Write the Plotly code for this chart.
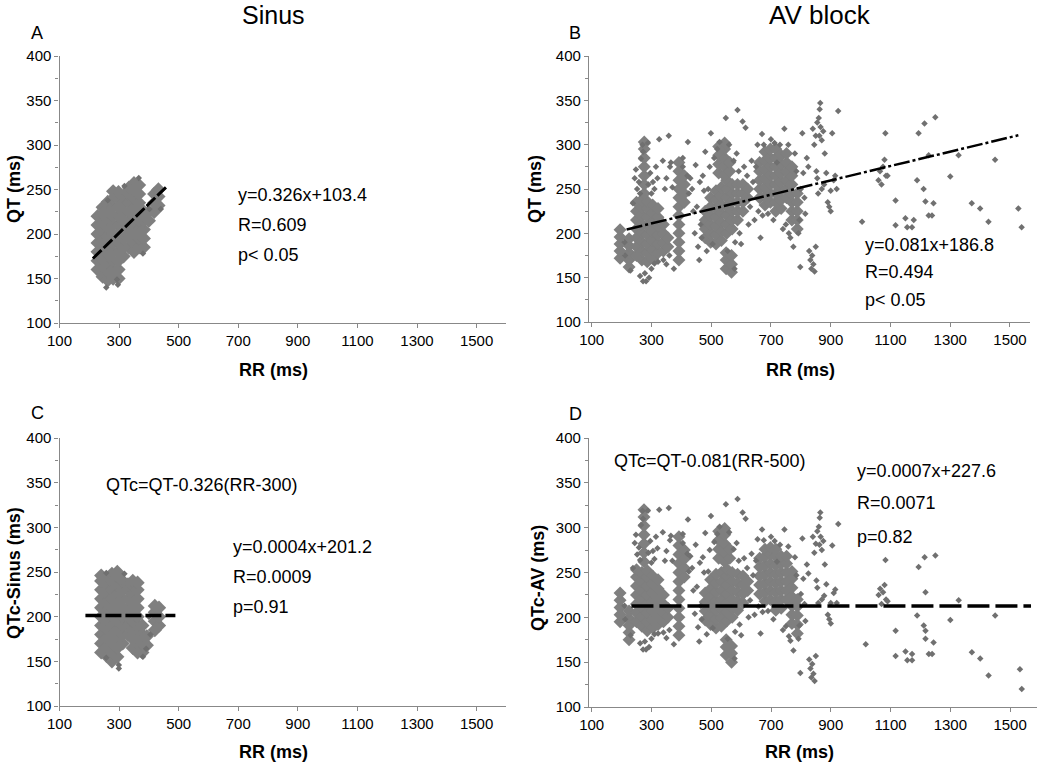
import plotly.graph_objects as go

# ---------------- DATA ----------------
# Panel A: Sinus, QT vs RR  (dense cloud + isolated points)
A_CORE = [
    (228,160),(228,170),(228,180),(228,190),(228,200),(228,210),(228,220),
    (245,152),(245,162),(245,172),(245,182),(245,192),(245,202),(245,212),(245,222),(245,230),
    (262,148),(262,158),(262,168),(262,178),(262,188),(262,198),(262,208),(262,218),(262,228),(262,236),
    (280,150),(280,160),(280,170),(280,180),(280,190),(280,200),(280,210),(280,220),(280,230),(280,240),(280,248),
    (298,150),(298,160),(298,170),(298,180),(298,190),(298,200),(298,210),(298,220),(298,230),(298,240),(298,247),
    (315,175),(315,185),(315,195),(315,205),(315,215),(315,225),(315,235),(315,243),
    (333,185),(333,195),(333,205),(333,215),(333,225),(333,235),(333,245),(333,252),
    (350,180),(350,190),(350,200),(350,210),(350,220),(350,230),(350,240),(350,250),(350,257),
    (367,185),(367,195),(367,205),(367,215),(367,225),(367,235),(367,245),(367,255),
    (383,185),(383,195),(383,205),(383,215),(383,225),
    (400,215),(400,225),
    (418,225),(418,235),(418,245),
    (432,232),(432,242),(432,250),
]
A_PTS = [(257,140),(296,143),(293,149),(318,254),(366,263),(262,238),(402,228),(380,178),(440,228)]
A_FIT_RR = [212, 463]
A_FIT_QT = [172.5, 254.3]

# Panel B: AV block, QT vs RR
B_CORE = [
    (195,172),(195,180),(195,188),(195,196),(195,204),
    (225,162),(225,170),(225,178),(225,186),(225,194),
    (250,175),(250,185),(250,195),(250,205),(250,215),(250,225),(250,235),
    (268,170),(268,180),(268,190),(268,200),(268,210),(268,220),(268,230),(268,238),
    (286,168),(286,178),(286,188),(286,198),(286,208),(286,218),(286,228),(286,236),
    (304,172),(304,182),(304,192),(304,202),(304,212),(304,222),(304,232),
    (322,178),(322,188),(322,198),(322,208),(322,218),(322,228),
    (340,180),(340,190),(340,200),(340,210),
    (355,185),(355,195),
    (276,245),(276,255),(276,265),(276,275),(276,285),(276,295),(276,303),
    (392,170),(392,180),(392,190),(392,200),(392,210),(392,220),(392,230),(392,240),(392,250),(392,260),(392,270),(392,280),
    (410,235),(410,245),(410,255),(410,265),
    (480,195),(480,205),(480,215),(480,225),
    (498,190),(498,200),(498,210),(498,220),(498,230),(498,240),
    (516,188),(516,198),(516,208),(516,218),(516,228),(516,238),(516,248),
    (534,192),(534,202),(534,212),(534,222),(534,232),(534,242),(534,252),
    (552,200),(552,210),(552,220),(552,230),(552,240),(552,250),(552,260),
    (570,205),(570,215),(570,225),(570,235),(570,245),(570,255),
    (588,215),(588,225),(588,235),(588,245),(588,255),
    (606,225),(606,235),(606,245),(606,255),
    (622,240),(622,250),
    (525,268),(525,278),(525,288),(525,298),
    (545,265),(545,275),(545,285),(545,295),(545,302),
    (562,270),(562,280),
    (550,160),(550,170),(550,178),
    (568,156),(568,165),(568,175),
    (662,240),(662,250),(662,260),(662,270),(662,280),
    (680,232),(680,242),(680,252),(680,262),(680,272),(680,282),(680,292),
    (698,235),(698,245),(698,255),(698,265),(698,275),(698,285),(698,295),
    (716,225),(716,235),(716,245),(716,255),(716,265),(716,275),(716,285),(716,295),
    (734,228),(734,238),(734,248),(734,258),(734,268),(734,278),(734,288),
    (752,240),(752,250),(752,260),(752,270),(752,280),(752,290),
    (770,215),(770,225),(770,235),(770,245),(770,255),(770,265),(770,275),
    (788,205),(788,215),(788,225),(788,235),(788,245),
]
B_PTS = [
    (210,190),(212,175),(230,158),(238,234),(244,262),(248,272),(252,250),(258,258),(262,245),(265,284),
    (270,300),(272,292),(288,302),(290,255),(296,268),(300,245),(305,258),(310,250),(315,275),(320,262),
    (326,306),(338,282),(345,250),(350,262),(358,310),(362,275),(365,280),(370,252),(340,170),(350,165),
    (300,160),(292,150),(282,146),(272,146),(278,155),(262,152),(310,166),(322,168),(360,175),(375,160),
    (405,285),(405,275),(420,265),(422,303),(425,245),(430,262),(436,250),(440,225),(445,200),(448,277),
    (452,230),(456,185),(460,170),(462,258),(465,210),(468,195),(472,265),(476,248),(480,292),(485,180),
    (490,250),(495,275),(499,313),(505,188),(510,285),
    (520,295),(528,303),(549,330),(555,180),(560,300),(575,282),(578,160),(580,190),(585,290),(588,339),
    (592,270),(595,200),(600,188),(605,326),(610,275),(615,319),(620,265),(625,210),(630,230),(635,282),
    (640,258),(645,215),(650,275),(655,300),(658,225),(665,195),(670,312),(672,220),(676,300),(690,222),
    (700,306),(708,215),(712,302),(720,280),(730,300),(740,205),(745,318),(750,210),(758,300),(760,200),
    (765,195),(775,185),(780,290),(785,270),(792,200),(795,215),(798,162),(800,250),(805,313),(808,268),
    (812,240),(815,222),(820,285),(825,275),(828,180),(832,170),(835,160),(838,175),(842,165),(846,157),
    (850,185),(852,270),(855,262),(858,245),(840,318),(845,300),(850,310),(855,325),(860,330),(862,310),
    (866,320),(870,305),(865,347),(863,340),(875,315),(880,290),(885,268),(890,235),(895,230),(900,248),
    (905,313),(910,260),(915,265),(920,250),(925,338),(900,225),(878,255),(870,250),
    (1005,213),(1060,260),(1065,270),(1070,255),(1075,275),(1080,283),(1085,265),(1090,265),(1083,313),
    (1117,237),(1117,209),(1150,217),(1156,207),(1172,207),(1178,215),(1189,260),(1194,313),(1211,250),
    (1214,324),(1217,236),(1228,220),(1239,220),(1244,234),(1250,331),(1228,288),(1300,264),(1328,288),
    (1372,234),(1400,228),(1428,213),(1450,283),(1528,228),(1539,207),
]
B_FIT_RR = [217, 1528]
B_FIT_QT = [204.4, 310.6]

# Panel C: Sinus, corrected QTc vs RR
C_CORE = [
    (240,160),(240,170),(240,180),(240,190),(240,200),(240,210),(240,220),(240,230),(240,240),(240,246),
    (258,156),(258,166),(258,176),(258,186),(258,196),(258,206),(258,216),(258,226),(258,236),(258,244),
    (276,150),(276,160),(276,170),(276,180),(276,190),(276,200),(276,210),(276,220),(276,230),(276,240),(276,248),
    (294,155),(294,165),(294,175),(294,185),(294,195),(294,205),(294,215),(294,225),(294,235),(294,245),(294,250),
    (312,170),(312,180),(312,190),(312,200),(312,210),(312,220),(312,230),(312,240),
    (330,180),(330,190),(330,200),(330,210),(330,220),(330,230),(330,236),
    (346,165),(346,175),(346,185),(346,195),(346,205),(346,215),(346,225),(346,235),(346,240),
    (362,160),(362,170),(362,180),(362,190),(362,200),(362,210),(362,220),(362,230),(362,238),
    (378,160),(378,170),(378,180),(378,190),
    (393,168),(393,178),
    (420,185),(420,195),(420,205),(420,212),
    (434,190),(434,200),(434,210),
]
C_PTS = [(257,154),(299,146),(299,142),(257,249),(318,248),(380,155),(391,164),(405,180),(400,200)]
C_FIT_RR = [187, 489]
C_FIT_QT = [201.3, 201.4]

# Panel D: AV block, corrected QTc vs RR
D_CORE = [
    (195,195),(195,203),(195,211),(195,219),(195,227),
    (225,175),(225,183),(225,191),(225,199),(225,207),
    (250,195),(250,205),(250,215),(250,225),(250,235),(250,245),(250,253),
    (268,190),(268,200),(268,210),(268,220),(268,230),(268,240),(268,250),
    (286,185),(286,195),(286,205),(286,215),(286,225),(286,235),(286,245),(286,252),
    (304,188),(304,198),(304,208),(304,218),(304,228),(304,238),(304,246),
    (322,192),(322,202),(322,212),(322,222),(322,232),(322,242),
    (340,195),(340,205),(340,215),(340,225),
    (355,200),(355,210),
    (275,262),(275,272),(275,282),(275,292),(275,302),(275,312),(275,320),
    (392,180),(392,190),(392,200),(392,210),(392,220),(392,230),(392,240),(392,250),(392,260),(392,270),(392,280),(392,290),
    (410,245),(410,255),(410,265),(410,275),
    (480,197),(480,207),(480,217),(480,227),
    (498,192),(498,202),(498,212),(498,222),(498,232),(498,242),
    (516,188),(516,198),(516,208),(516,218),(516,228),(516,238),(516,248),
    (534,190),(534,200),(534,210),(534,220),(534,230),(534,240),(534,250),
    (552,196),(552,206),(552,216),(552,226),(552,236),(552,246),(552,254),
    (570,200),(570,210),(570,220),(570,230),(570,240),(570,250),
    (588,208),(588,218),(588,228),(588,238),(588,248),
    (606,216),(606,226),(606,236),(606,246),
    (622,230),(622,240),
    (525,266),(525,276),(525,286),(525,296),
    (545,262),(545,272),(545,282),(545,292),(545,299),
    (562,266),(562,276),
    (550,158),(550,167),(550,175),
    (568,150),(568,160),(568,168),
    (662,226),(662,236),(662,246),(662,256),(662,266),
    (680,218),(680,228),(680,238),(680,248),(680,258),(680,268),(680,276),
    (698,220),(698,230),(698,240),(698,250),(698,260),(698,270),(698,278),
    (716,208),(716,218),(716,228),(716,238),(716,248),(716,258),(716,268),(716,276),
    (734,210),(734,220),(734,230),(734,240),(734,250),(734,260),(734,268),
    (752,220),(752,230),(752,240),(752,250),(752,260),(752,268),
    (770,193),(770,203),(770,213),(770,223),(770,233),(770,243),(770,251),
    (788,182),(788,192),(788,202),(788,212),(788,220),
]
D_PTS = [
    (210,213),(212,198),(230,180),(238,255),(244,283),(248,292),(252,270),(258,278),(262,264),(265,303),
    (270,319),(272,310),(288,319),(290,272),(296,285),(300,261),(305,274),(310,265),(315,290),(320,277),
    (326,320),(338,295),(345,263),(350,274),(358,322),(362,286),(365,291),(370,263),(340,183),(350,177),
    (300,176),(292,167),(282,164),(272,164),(278,173),(262,171),(310,181),(322,182),(360,186),(375,170),
    (405,293),(405,283),(420,271),(422,309),(425,251),(430,268),(436,255),(440,230),(445,204),(448,281),
    (452,234),(456,189),(460,173),(462,261),(465,213),(468,198),(472,267),(476,250),(480,294),(485,181),
    (490,251),(495,275),(499,313),(505,188),(510,284),
    (520,293),(528,301),(549,326),(555,176),(560,295),(575,276),(578,154),(580,184),(585,283),(588,332),
    (592,263),(595,192),(600,180),(605,317),(610,266),(615,310),(620,255),(625,200),(630,219),(635,271),
    (640,247),(645,203),(650,263),(655,287),(658,212),(665,182),(670,298),(672,206),(676,286),(690,207),
    (700,290),(708,198),(712,285),(720,262),(730,281),(740,186),(745,298),(750,190),(758,279),(760,179),
    (765,174),(775,163),(780,267),(785,247),(792,176),(795,191),(798,138),(800,226),(805,288),(808,243),
    (812,215),(815,196),(820,259),(825,249),(828,153),(832,143),(835,133),(838,148),(842,137),(846,129),
    (850,157),(852,241),(855,233),(858,216),(840,290),(845,272),(850,282),(855,296),(860,301),(862,281),
    (866,290),(870,275),(865,317),(863,311),(875,285),(880,259),(885,237),(890,203),(895,198),(900,216),
    (905,280),(910,227),(915,231),(920,216),(925,304),(900,193),(878,224),(870,220),
    (1017,170),(1060,225),(1065,232),(1070,215),(1075,228),(1080,236),(1085,220),(1090,218),(1083,264),
    (1117,185),(1117,157),(1150,162),(1156,152),(1172,152),(1172,159),(1189,202),(1194,256),(1211,191),
    (1214,267),(1217,185),(1217,176),(1228,159),(1239,159),(1244,172),(1250,269),(1217,228),(1300,197),
    (1328,219),(1372,161),(1400,154),(1428,135),(1450,202),(1533,142),(1539,120),
]
D_FIT_RR = [233, 1570]
D_FIT_QT = [212.6, 212.6]

X_TICKS = [100, 300, 500, 700, 900, 1100, 1300, 1500]
Y_TICKS = [100, 150, 200, 250, 300, 350, 400]

# ---------------- LAYOUT HELPERS ----------------
W, H = 1039, 764
FONT = "Arial, Liberation Sans, sans-serif"
GRAY = "#7f7f7f"


def fx(X):
    return X / W


def fy(Y):
    return 1 - Y / H


fig = go.Figure()

panels = [
    # (axis suffix, core, pts, fit rr, fit qt, dash, line width, core size)
    ("", A_CORE, A_PTS, A_FIT_RR, A_FIT_QT, "12px,3px", 3, 11),
    ("2", B_CORE, B_PTS, B_FIT_RR, B_FIT_QT, "16px,3px,3px,3px", 2.5, 10),
    ("3", C_CORE, C_PTS, C_FIT_RR, C_FIT_QT, "16px,4px", 3.5, 11),
    ("4", D_CORE, D_PTS, D_FIT_RR, D_FIT_QT, "22px,6px", 3.5, 10),
]

for suf, core, pts, frr, fqt, dash, lw, csize in panels:
    xa, ya = "x" + suf, "y" + suf
    fig.add_trace(go.Scatter(
        x=[p[0] for p in core], y=[p[1] for p in core], mode="markers",
        marker=dict(symbol="diamond", size=csize, color=GRAY, line=dict(width=0)),
        xaxis=xa, yaxis=ya, showlegend=False, hoverinfo="x+y"))
    fig.add_trace(go.Scatter(
        x=[p[0] for p in pts], y=[p[1] for p in pts], mode="markers",
        marker=dict(symbol="diamond", size=5, color="#707070", line=dict(width=0)),
        xaxis=xa, yaxis=ya, showlegend=False, hoverinfo="x+y"))
    fig.add_trace(go.Scatter(
        x=frr, y=fqt, mode="lines",
        line=dict(color="black", width=lw, dash=dash),
        xaxis=xa, yaxis=ya, showlegend=False, hoverinfo="skip"))

# page-pixel boxes of the four plot areas: (left, right, top, bottom), x range
boxes = {
    "": (59.5, 505.5, 56, 323, [100, 1597]),
    "2": (589, 1030, 56, 322, [91, 1567]),
    "3": (59.5, 505.5, 438, 706, [100, 1597]),
    "4": (589, 1037, 438, 707, [91, 1590]),
}

layout = dict(
    width=W, height=H,
    margin=dict(l=0, r=0, t=0, b=0, autoexpand=False),
    paper_bgcolor="white", plot_bgcolor="white",
    font=dict(family=FONT, color="black"),
)
for suf, (l, r, t, b, xr) in boxes.items():
    layout["xaxis" + suf] = dict(
        domain=[fx(l), fx(r)], range=xr, anchor="y" + suf, automargin=False,
        tickvals=X_TICKS, ticks="outside", ticklen=4, tickcolor="#888",
        showline=True, linecolor="#888", linewidth=1.3,
        showgrid=False, zeroline=False,
        tickfont=dict(family=FONT, size=15, color="black"),
    )
    layout["yaxis" + suf] = dict(
        domain=[fy(b), fy(t)], range=[100, 400], anchor="x" + suf, automargin=False,
        tickvals=Y_TICKS, ticks="outside", ticklen=4, tickcolor="#888",
        minor=dict(dtick=25, tick0=100, ticks="outside", ticklen=3, tickcolor="#888"),
        showline=True, linecolor="#888", linewidth=1.3,
        showgrid=False, zeroline=False,
        tickfont=dict(family=FONT, size=15, color="black"),
    )
fig.update_layout(**layout)

ann = []


def paper_text(text, X, Y, size, bold=False, angle=0, xanchor="center"):
    t = "<b>" + text + "</b>" if bold else text
    ann.append(dict(text=t, x=fx(X), y=fy(Y), xref="paper", yref="paper",
                    xanchor=xanchor, yanchor="middle", showarrow=False,
                    textangle=angle, font=dict(family=FONT, size=size, color="black")))


def data_text(text, suf, x, y, size=18):
    ann.append(dict(text=text, x=x, y=y, xref="x" + suf, yref="y" + suf,
                    xanchor="left", yanchor="middle", showarrow=False,
                    font=dict(family=FONT, size=size, color="black")))


# column titles and panel letters
paper_text("Sinus", 273, 15, 25)
paper_text("AV block", 820, 15, 26)
paper_text("A", 37, 33, 18)
paper_text("B", 575, 33, 18)
paper_text("C", 37, 413, 18)
paper_text("D", 575, 414, 18)

# axis titles
paper_text("RR (ms)", 273, 370, 18, bold=True)
paper_text("RR (ms)", 800, 370, 18, bold=True)
paper_text("RR (ms)", 273, 752, 18, bold=True)
paper_text("RR (ms)", 799, 752, 18, bold=True)
paper_text("QT (ms)", 14, 189, 18, bold=True, angle=-90)
paper_text("QT (ms)", 535, 189, 18, bold=True, angle=-90)
paper_text("QTc-Sinus (ms)", 14, 573, 18, bold=True, angle=-90)
paper_text("QTc-AV (ms)", 538, 578, 18, bold=True, angle=-90)

# statistics text
data_text("y=0.326x+103.4", "", 691, 244)
data_text("R=0.609", "", 691, 210)
data_text("p< 0.05", "", 691, 176)

data_text("y=0.081x+186.8", "2", 1008, 187)
data_text("R=0.494", "2", 1008, 156)
data_text("p< 0.05", "2", 1008, 125)

data_text("QTc=QT-0.326(RR-300)", "3", 248, 347)
data_text("y=0.0004x+201.2", "3", 677, 278)
data_text("R=0.0009", "3", 677, 244)
data_text("p=0.91", "3", 677, 211)

data_text("QTc=QT-0.081(RR-500)", "4", 167, 374)
data_text("y=0.0007x+227.6", "4", 981, 363)
data_text("R=0.0071", "4", 981, 328)
data_text("p=0.82", "4", 981, 290)

fig.update_layout(annotations=ann)
# remove the page's default 8 px body margin so the figure fills the window,
# and hide the plotly toolbar
fig.write_html("out.html",
               config={"displayModeBar": False},
               post_script="document.body.style.margin='0px';")
